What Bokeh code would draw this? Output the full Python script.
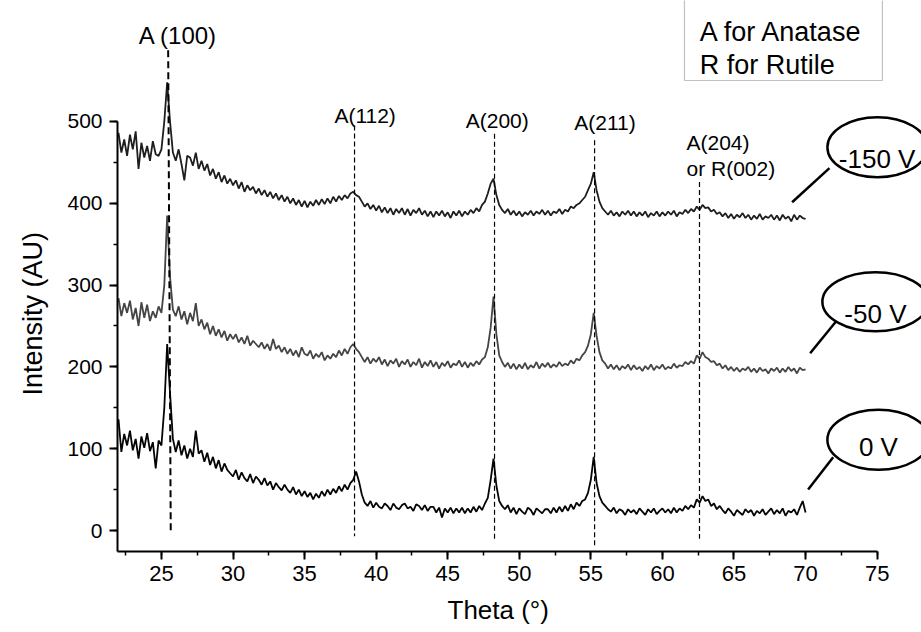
from bokeh.plotting import figure
from bokeh.models import Label, BoxAnnotation, SingleIntervalTicker, Title
from bokeh.embed import file_html
from bokeh.resources import INLINE

# ---------------- data ----------------
theta_start = 22.0
theta_step = 0.2   # one value every 0.2 degree, 22.0 ... 70.0

# 0 V sample (black)
i_0v = [
    136, 96, 118, 104, 122, 98, 112, 88, 115, 101,      # 22.0-23.8
    119, 97, 108, 76, 110, 104, 150, 228, 168, 112,     # 24.0-25.8
    96, 110, 92, 104, 88, 100, 90, 122, 94, 98,         # 26.0-27.8
    84, 95, 80, 90, 76, 86, 72, 82, 74, 70,             # 28.0-29.8
    66, 74, 62, 71, 64, 60, 69, 58, 66, 62,             # 30.0-31.8
    56, 64, 55, 60, 50, 58, 53, 49, 56, 50,             # 32.0-33.8
    46, 53, 44, 50, 42, 48, 41, 46, 38, 45,             # 34.0-35.8
    40, 48, 42, 50, 44, 51, 46, 54, 48, 56,             # 36.0-37.8
    50, 58, 62, 72, 60, 44, 34, 30, 36, 28,             # 38.0-39.8
    34, 29, 27, 33, 30, 25, 33, 28, 26, 31,             # 40.0-41.8
    33, 27, 29, 24, 32, 30, 25, 31, 24, 29,             # 42.0-43.8
    29, 22, 28, 16, 27, 22, 28, 21, 27, 22,             # 44.0-45.8
    28, 21, 27, 22, 29, 23, 30, 25, 33, 40,             # 46.0-47.8
    62, 88, 55, 36, 30, 26, 31, 22, 28, 20,             # 48.0-49.8
    27, 23, 20, 28, 25, 19, 27, 24, 21, 26,             # 50.0-51.8
    26, 21, 28, 22, 29, 23, 30, 24, 32, 26,             # 52.0-53.8
    34, 30, 36, 38, 46, 62, 90, 58, 42, 34,             # 54.0-55.8
    30, 26, 23, 28, 21, 26, 24, 19, 26, 22,             # 56.0-57.8
    25, 20, 27, 23, 19, 26, 22, 27, 20, 24,             # 58.0-59.8
    27, 22, 26, 21, 28, 22, 27, 24, 30, 26,             # 60.0-61.8
    31, 28, 38, 34, 42, 36, 38, 30, 33, 26,             # 62.0-63.8
    30, 25, 21, 27, 23, 18, 25, 22, 19, 26,             # 64.0-65.8
    22, 25, 18, 24, 21, 26, 19, 23, 27, 20,             # 66.0-67.8
    25, 21, 27, 18, 24, 22, 26, 19, 28, 36,             # 68.0-69.8
    22,                                                 # 70.0
]

# -50 V sample (grey)
i_50v = [
    284, 262, 278, 266, 281, 258, 272, 250, 279, 260,
    276, 256, 268, 260, 274, 266, 300, 385, 310, 270,
    262, 274, 258, 268, 252, 266, 256, 278, 250, 258,
    246, 254, 240, 250, 238, 246, 236, 244, 232, 240,
    234, 240, 230, 236, 228, 238, 226, 232, 228, 224,
    230, 222, 228, 220, 234, 222, 226, 218, 224, 216,
    222, 214, 220, 212, 224, 216, 214, 220, 210, 216,
    212, 218, 208, 214, 210, 216, 212, 220, 214, 222,
    216, 224, 228, 222, 218, 212, 206, 212, 204, 210,
    206, 212, 203, 209, 201, 208, 204, 210, 200, 207,
    203, 209, 200, 206, 202, 210, 199, 206, 201, 208,
    200, 206, 198, 205, 201, 207, 199, 204, 202, 208,
    200, 206, 199, 205, 201, 207, 203, 209, 212, 224,
    248, 286, 240, 214, 206, 200, 205, 198, 204, 197,
    203, 198, 205, 197, 202, 199, 206, 198, 204, 200,
    205, 199, 203, 200, 206, 201, 204, 202, 208, 204,
    210, 208, 214, 218, 226, 240, 266, 238, 218, 208,
    204, 198, 203, 197, 202, 196, 201, 198, 203, 196,
    202, 197, 200, 195, 201, 197, 203, 196, 201, 198,
    203, 197, 200, 198, 204, 199, 202, 201, 206, 203,
    207, 204, 214, 210, 218, 212, 210, 206, 207, 202,
    204, 198, 202, 196, 200, 195, 199, 194, 198, 196,
    200, 194, 198, 193, 199, 195, 197, 192, 198, 195,
    199, 193, 198, 194, 200, 195, 198, 192, 199, 196,
    197,
]

# -150 V sample (dark)
i_150v = [
    486, 462, 478, 458, 484, 466, 488, 442, 474, 456,
    470, 452, 476, 460, 458, 466, 500, 548, 500, 462,
    452, 466, 448, 428, 458, 456, 446, 462, 442, 452,
    440, 448, 434, 442, 430, 438, 426, 434, 424, 430,
    422, 428, 418, 426, 414, 422, 416, 420, 412, 418,
    410, 416, 408, 414, 406, 412, 404, 410, 402, 408,
    400, 406, 398, 404, 396, 403, 395, 402, 397, 404,
    398, 405, 399, 406, 400, 408, 402, 409, 404, 410,
    406, 412, 414, 410, 408, 402, 396, 400, 393, 398,
    391, 397, 389, 395, 388, 394, 386, 393, 388, 394,
    386, 393, 385, 392, 388, 394, 386, 391, 384, 390,
    383, 390, 385, 391, 384, 389, 382, 390, 385, 391,
    384, 390, 386, 392, 388, 394, 390, 398, 402, 412,
    424, 430, 410, 398, 392, 388, 393, 386, 391, 385,
    390, 384, 389, 386, 391, 385, 390, 387, 392, 386,
    391, 385, 390, 388, 393, 387, 392, 390, 396, 394,
    398, 400, 404, 408, 416, 424, 438, 416, 402, 394,
    390, 386, 391, 385, 389, 384, 390, 386, 391, 385,
    390, 384, 389, 385, 390, 383, 388, 385, 390, 384,
    389, 385, 390, 386, 391, 384, 389, 387, 392, 388,
    393, 390, 396, 392, 398, 394, 395, 390, 392, 387,
    389, 384, 388, 382, 387, 381, 386, 383, 388, 382,
    386, 380, 385, 381, 387, 380, 384, 382, 386, 380,
    385, 379, 386, 381, 384, 378, 386, 380, 385, 382,
    381,
]

# reflection markers
peak_names = ["A (100)", "A(112)", "A(200)", "A(211)", "A(204)"]
peak_theta_top = [25.47, 38.49, 48.27, 55.26, 62.59]
peak_theta_bottom = [25.65, 38.49, 48.27, 55.26, 62.59]
peak_line_top = [587, 495, 485, 477, 426]
peak_line_bottom = [-1, -7, -13, -20, -10]

series_names = ["-150 V", "-50 V", "0 V"]

FONT = "Liberation Sans"

theta = [round(theta_start + theta_step * k, 1) for k in range(len(i_0v))]

p = figure(width=921, height=632, x_range=(21.93, 78.10), y_range=(-25.67, 647.9),
           output_backend="svg", toolbar_location=None, title=None,
           min_border_left=117, min_border_right=0, min_border_top=0, min_border_bottom=81,
           background_fill_color="white", border_fill_color="white")
p.outline_line_color = None
p.xgrid.visible = False
p.ygrid.visible = False

p.xaxis.ticker = SingleIntervalTicker(interval=5, num_minor_ticks=2)
p.yaxis.ticker = SingleIntervalTicker(interval=100, num_minor_ticks=2)
p.xaxis.bounds = (21.93, 75)
p.yaxis.bounds = (-25.67, 500)
for ax in (p.xaxis, p.yaxis):
    ax.axis_line_width = 2
    ax.axis_line_color = "black"
    ax.major_tick_line_width = 2
    ax.minor_tick_line_width = 1.5
    ax.major_tick_line_color = "black"
    ax.minor_tick_line_color = "black"
    ax.major_tick_out = 8
    ax.major_tick_in = 0
    ax.minor_tick_out = 4
    ax.minor_tick_in = 0
    ax.major_label_text_font = FONT
    ax.major_label_text_color = "black"
p.xaxis.major_label_text_font_size = "22px"
p.yaxis.major_label_text_font_size = "21px"
p.xaxis.major_label_standoff = 6
p.yaxis.major_label_standoff = 7

# axis titles, placed like the reference (not centred on the frame)
p.add_layout(Title(text="Theta (°)", align="left", offset=330, vertical_align="bottom",
                   standoff=0, padding=dict(top=9, bottom=0, left=0, right=0),
                   text_font=FONT, text_font_size="26px",
                   text_font_style="normal", text_color="black"), "below")
p.add_layout(Title(text="Intensity (AU)", align="left", offset=156, vertical_align="middle",
                   standoff=32, text_font=FONT, text_font_size="27px",
                   text_font_style="normal", text_color="black"), "left")

# curves
p.line(theta, i_150v, line_color="#1e1e1e", line_width=1.8)
p.line(theta, i_50v, line_color="#454545", line_width=1.8)
p.line(theta, i_0v, line_color="#050505", line_width=1.8)

# dashed reflection lines
p.segment(x0=peak_theta_top[:1], y0=peak_line_top[:1], x1=peak_theta_bottom[:1], y1=peak_line_bottom[:1],
          line_color="black", line_width=2, line_dash="7 4")
p.segment(x0=peak_theta_top[1:], y0=peak_line_top[1:], x1=peak_theta_bottom[1:], y1=peak_line_bottom[1:],
          line_color="black", line_width=1.2, line_dash="5 3")

def lab(x, y, text, size, align="center", baseline="alphabetic"):
    p.add_layout(Label(x=x, y=y, text=text, text_font=FONT, text_font_size=size,
                       text_align=align, text_baseline=baseline, text_color="black"))

# peak labels
lab(26.16, 605.1, peak_names[0], "24px")
lab(39.23, 507.3, peak_names[1], "21px")
lab(48.46, 501.2, peak_names[2], "21px")
lab(55.99, 498.8, peak_names[3], "21px")
lab(61.68, 474.3, peak_names[4], "21px", align="left")
lab(61.68, 442.5, "or R(002)", "21px", align="left")

# legend box
p.add_layout(BoxAnnotation(left=61.54, right=75.37, bottom=550.1, top=670,
                           fill_alpha=0, line_color="#333333", line_width=1.2))
lab(62.61, 609.2, "A for Anatase", "27px", align="left")
lab(62.61, 568.5, "R for Rutile", "27px", align="left")

# series callouts
p.ellipse(x=[75.02, 74.88, 75.09], y=[468.6, 279.7, 110.9], width=[6.99, 7.41, 7.13],
          height=[73.3, 72.1, 73.3], fill_color=None, line_color="black", line_width=2.5)
p.segment(x0=[69.06, 70.32, 70.18], y0=[401.3, 216.7, 50.1], x1=[71.67, 72.14, 71.93],
          y1=[442.9, 255.9, 89.6], line_color="black", line_width=2.5)
lab(75.0, 454.4, series_names[0], "26px")
lab(74.88, 264.9, series_names[1], "26px")
lab(75.09, 102.3, series_names[2], "26px")

open("out.html", "w").write(file_html(p, INLINE))
